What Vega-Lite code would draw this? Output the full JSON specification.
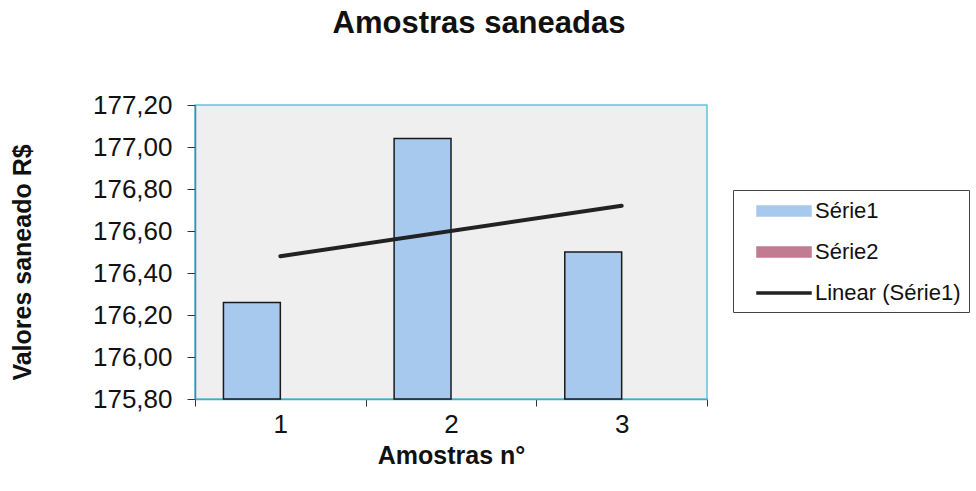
{
  "$schema": "https://vega.github.io/schema/vega-lite/v6.json",
  "width": 512,
  "height": 294,
  "autosize": "none",
  "padding": {"left": 195, "top": 105, "right": 269, "bottom": 92},
  "background": "white",
  "title": {
    "text": "Amostras saneadas",
    "anchor": "middle",
    "frame": "group",
    "dx": 28,
    "offset": 52,
    "font": "Liberation Sans",
    "fontSize": 31,
    "fontWeight": "bold",
    "color": "#111"
  },
  "datasets": {
    "amostras": [
      {"Amostra": "1", "Serie": "Série1", "Valor": 176.26},
      {"Amostra": "2", "Serie": "Série1", "Valor": 177.04},
      {"Amostra": "3", "Serie": "Série1", "Valor": 176.50}
    ],
    "tendencia": [
      {"Amostra": "1", "Serie": "Linear (Série1)", "Valor": 176.48},
      {"Amostra": "3", "Serie": "Linear (Série1)", "Valor": 176.72}
    ]
  },
  "layer": [
    {
      "data": {"name": "amostras"},
      "mark": {"type": "bar", "stroke": "#1a1a1a", "strokeWidth": 1.5},
      "encoding": {
        "x": {
          "field": "Amostra",
          "type": "ordinal",
          "scale": {"domain": ["1", "2", "3"], "paddingInner": 0, "paddingOuter": 0},
          "axis": {
            "title": "Amostras n°",
            "labelAngle": 0,
            "tickBand": "extent",
            "tickSize": 7,
            "tickColor": "#333",
            "domainColor": "#4aa8c8",
            "domainWidth": 1.5,
            "labelPadding": 5,
            "labelFont": "Liberation Sans",
            "labelFontSize": 26,
            "labelColor": "#111",
            "titleFont": "Liberation Sans",
            "titleFontSize": 25,
            "titleFontWeight": "bold",
            "titleColor": "#111",
            "titleBaseline": "middle",
            "titleY": 56
          }
        },
        "xOffset": {
          "field": "Serie",
          "type": "nominal",
          "scale": {"domain": ["Série1", "Série2"], "paddingInner": 0, "paddingOuter": 0.5}
        },
        "y": {
          "field": "Valor",
          "type": "quantitative",
          "scale": {"domain": [175.8, 177.2], "zero": false, "nice": false},
          "axis": {
            "title": "Valores saneado R$",
            "values": [175.8, 176.0, 176.2, 176.4, 176.6, 176.8, 177.0, 177.2],
            "labelExpr": "replace(format(datum.value, '.2f'), '.', ',')",
            "grid": false,
            "tickSize": 8,
            "tickColor": "#333",
            "domainColor": "#3f8ba6",
            "domainWidth": 1.5,
            "labelPadding": 15,
            "labelFont": "Liberation Sans",
            "labelFontSize": 26,
            "labelColor": "#111",
            "titleFont": "Liberation Sans",
            "titleFontSize": 25,
            "titleFontWeight": "bold",
            "titleColor": "#111",
            "titleAngle": -90,
            "titleAlign": "center",
            "titleBaseline": "middle",
            "titleX": -173,
            "titleY": 157
          }
        },
        "y2": {"datum": 175.8},
        "color": {
          "field": "Serie",
          "type": "nominal",
          "scale": {
            "domain": ["Série1", "Série2", "Linear (Série1)"],
            "range": ["#a8c9ee", "#c27b90", "#222222"]
          },
          "legend": {
            "title": null,
            "orient": "none",
            "legendX": 538,
            "legendY": 85,
            "fillColor": "white",
            "strokeColor": "#444",
            "padding": 8,
            "symbolOffset": 30,
            "symbolSize": 576,
            "symbolType": {"expr": "datum.value == 'Linear (Série1)' ? 'M-2.25,-0.08H2.25V0.08H-2.25Z' : 'M-2.25,-0.42H2.25V0.42H-2.25Z'"},
            "symbolStrokeColor": "#1a1a1a",
            "symbolStrokeWidth": 1.5,
            "symbolOpacity": 1,
            "labelOffset": 18,
            "rowPadding": 17,
            "labelFont": "Liberation Sans",
            "labelFontSize": 22,
            "labelColor": "#111",
            "labelLimit": 300
          }
        }
      }
    },
    {
      "data": {"name": "tendencia"},
      "mark": {"type": "line", "strokeWidth": 4, "strokeCap": "round"},
      "encoding": {
        "x": {"field": "Amostra", "type": "ordinal"},
        "y": {"field": "Valor", "type": "quantitative"},
        "color": {"field": "Serie", "type": "nominal", "legend": null}
      }
    }
  ],
  "config": {
    "view": {"fill": "#efefef", "stroke": "#62c3dc", "strokeWidth": 1.5}
  }
}
